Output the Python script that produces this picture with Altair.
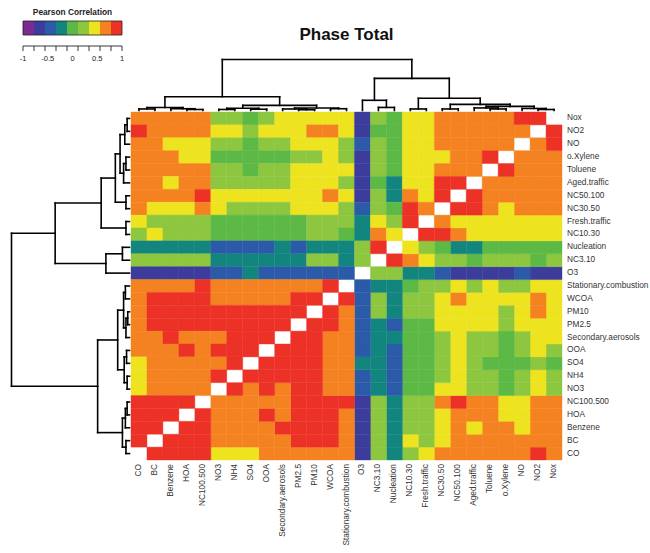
import altair as alt
import pandas as pd

# ---------------- data ----------------
# column order (left -> right); rows use the reversed order (top -> bottom)
variables = ["CO", "BC", "Benzene", "HOA", "NC100.500", "NO3", "NH4", "SO4", "OOA",
             "Secondary.aerosols", "PM2.5", "PM10", "WCOA", "Stationary.combustion",
             "O3", "NC3.10", "Nucleation", "NC10.30", "Fresh.traffic", "NC30.50",
             "NC50.100", "Aged.traffic", "Toluene", "o.Xylene", "NO", "NO2", "Nox"]
row_names = variables[::-1]

# Pearson r: upper-left triangle, row by row (top row first),
# columns from the left up to the white diagonal
tri_rows = [
    [0.67, 0.67, 0.67, 0.67, 0.67, 0.22, 0.22, 0.00, 0.22, 0.45, 0.45, 0.45, 0.45, 0.45, -0.67, 0.22, 0.00, 0.45, 0.45, 0.67, 0.67, 0.67, 0.67, 0.67, 0.89, 0.89],
    [0.89, 0.67, 0.67, 0.67, 0.67, 0.45, 0.45, 0.22, 0.45, 0.45, 0.45, 0.67, 0.67, 0.45, -0.67, 0.00, 0.00, 0.45, 0.45, 0.67, 0.67, 0.67, 0.67, 0.67, 0.67],
    [0.67, 0.67, 0.45, 0.45, 0.45, 0.22, 0.22, 0.00, 0.22, 0.22, 0.45, 0.45, 0.45, 0.22, -0.45, 0.22, 0.00, 0.45, 0.45, 0.67, 0.67, 0.67, 0.67, 0.67],
    [0.67, 0.67, 0.67, 0.45, 0.45, 0.00, 0.00, 0.00, 0.00, 0.00, 0.22, 0.22, 0.45, 0.22, -0.67, 0.22, 0.00, 0.45, 0.45, 0.45, 0.67, 0.67, 0.89],
    [0.67, 0.67, 0.67, 0.67, 0.67, 0.22, 0.22, 0.00, 0.22, 0.22, 0.45, 0.45, 0.45, 0.45, -0.67, 0.22, 0.00, 0.45, 0.45, 0.67, 0.67, 0.67],
    [0.67, 0.67, 0.45, 0.67, 0.67, 0.22, 0.22, 0.22, 0.22, 0.22, 0.45, 0.45, 0.45, 0.22, -0.67, 0.00, -0.22, 0.45, 0.45, 0.89, 0.89],
    [0.67, 0.67, 0.67, 0.67, 0.89, 0.45, 0.45, 0.45, 0.45, 0.45, 0.45, 0.45, 0.67, 0.45, -0.67, 0.22, -0.22, 0.67, 0.45, 0.89],
    [0.67, 0.45, 0.45, 0.45, 0.67, 0.45, 0.22, 0.22, 0.22, 0.22, 0.45, 0.45, 0.45, 0.22, -0.45, 0.22, 0.00, 0.89, 0.67],
    [0.45, 0.22, 0.22, 0.22, 0.22, 0.00, 0.00, 0.00, 0.00, 0.00, 0.00, 0.22, 0.22, 0.22, -0.22, 0.45, 0.22, 0.89],
    [0.22, 0.45, 0.22, 0.22, 0.22, 0.00, 0.00, 0.00, 0.00, 0.00, 0.00, 0.22, 0.22, 0.00, -0.22, 0.67, 0.45],
    [-0.22, -0.22, -0.22, -0.22, -0.22, -0.45, -0.45, -0.45, -0.45, -0.22, -0.45, -0.22, -0.22, -0.22, 0.22, 0.89],
    [0.22, 0.22, 0.22, 0.22, 0.22, -0.22, -0.22, -0.22, -0.22, -0.22, -0.22, 0.22, 0.22, -0.22, 0.22],
    [-0.67, -0.67, -0.67, -0.67, -0.67, -0.45, -0.45, -0.22, -0.45, -0.45, -0.45, -0.45, -0.45, -0.45],
    [0.67, 0.67, 0.67, 0.67, 0.89, 0.67, 0.67, 0.67, 0.67, 0.67, 0.67, 0.67, 0.89],
    [0.67, 0.89, 0.89, 0.89, 0.89, 0.67, 0.67, 0.67, 0.67, 0.67, 0.89, 0.89],
    [0.67, 0.89, 0.89, 0.89, 0.89, 0.89, 0.89, 0.89, 0.89, 0.89, 0.89],
    [0.67, 0.89, 0.89, 0.89, 0.89, 0.89, 0.89, 0.89, 0.89, 0.89],
    [0.67, 0.67, 0.89, 0.67, 0.67, 0.67, 0.89, 0.89, 0.89],
    [0.67, 0.67, 0.67, 0.89, 0.67, 0.89, 0.89, 0.89],
    [0.45, 0.67, 0.67, 0.67, 0.67, 0.67, 0.89],
    [0.45, 0.67, 0.67, 0.67, 0.67, 0.89],
    [0.45, 0.67, 0.67, 0.67, 0.67],
    [0.89, 0.89, 0.89, 0.89],
    [0.89, 0.89, 0.89],
    [0.89, 0.89],
    [0.89],
]

# hierarchical clustering (name, child a, child b, merge height relative to the root)
merges = [
    ("a1", "CO", "BC", 0.030),
    ("a2", "HOA", "NC100.500", 0.020),
    ("a3", "Benzene", "a2", 0.035),
    ("A1", "a1", "a3", 0.060),
    ("q1", "NO3", "NH4", 0.020),
    ("q2", "SO4", "OOA", 0.025),
    ("Q", "q1", "q2", 0.045),
    ("p1", "PM2.5", "PM10", 0.015),
    ("p2", "Secondary.aerosols", "p1", 0.030),
    ("p3", "WCOA", "Stationary.combustion", 0.035),
    ("P", "p2", "p3", 0.050),
    ("A2", "Q", "P", 0.100),
    ("A", "A1", "A2", 0.270),
    ("b1", "NC3.10", "Nucleation", 0.060),
    ("B1", "O3", "b1", 0.200),
    ("b2", "NC10.30", "Fresh.traffic", 0.030),
    ("b3", "NC30.50", "NC50.100", 0.030),
    ("b4", "Toluene", "o.Xylene", 0.030),
    ("b5", "Aged.traffic", "b4", 0.050),
    ("b6", "NO2", "Nox", 0.020),
    ("b7", "NO", "b6", 0.040),
    ("b8", "b5", "b7", 0.080),
    ("b9", "b3", "b8", 0.120),
    ("B2", "b2", "b9", 0.240),
    ("B", "B1", "B2", 0.630),
    ("root", "A", "B", 1.000),
]

legend_labels = ["-1", "-0.5", "0", "0.5", "1"]
legend_label_values = [-1, -0.5, 0, 0.5, 1]
thresholds = [-7 / 9, -5 / 9, -3 / 9, -1 / 9, 1 / 9, 3 / 9, 5 / 9, 7 / 9]
palette = ["#7b2a8f", "#3b3c9c", "#2b5aa8", "#13857f", "#5cb946",
           "#8dc63f", "#eee31f", "#f58220", "#ec3126"]

# ---------------- layout ----------------
W, H = 650, 553
N = len(variables)
HM_L, HM_R, HM_T, HM_B = 131, 562, 112, 460
ux = (HM_R - HM_L) / N
uy = (HM_B - HM_T) / N
x_scale = alt.Scale(domain=[-HM_L / ux, (W - HM_L) / ux], nice=False, zero=False)
y_scale = alt.Scale(domain=[-HM_T / uy, (H - HM_T) / uy], nice=False, zero=False, reverse=True)
TOP_PX, LEFT_PX, GAP = 51, 118, 1.5
LEG_L, LEG_R = 23, 122
lx = (LEG_R - LEG_L) / 2
leg_scale = alt.Scale(domain=[-1 - LEG_L / lx, -1 + (W - LEG_L) / lx], nice=False, zero=False)
color_scale = alt.Scale(type="threshold", domain=thresholds, range=palette)
FONT = "Liberation Sans"

# ---------------- tables ----------------
cells = []
for r, vals in enumerate(tri_rows):
    for c, v in enumerate(vals):
        cells.append({"r": r, "c": c, "v": v})
        cells.append({"r": N - 1 - c, "c": N - 1 - r, "v": v})
heat = pd.DataFrame(cells)
heat["r1"] = heat["r"] + 1
heat["c1"] = heat["c"] + 1

pos = {name: i for i, name in enumerate(variables)}
hgt = {name: 0.0 for name in variables}
segs = []
for name, a, b, h in merges:
    segs.append((pos[a], hgt[a], pos[a], h))
    segs.append((pos[b], hgt[b], pos[b], h))
    segs.append((pos[a], h, pos[b], h))
    pos[name] = (pos[a] + pos[b]) / 2
    hgt[name] = h
seg = pd.DataFrame(segs, columns=["p1", "h1", "p2", "h2"])
# top dendrogram (columns)
seg["tx1"] = seg["p1"] + 0.5
seg["tx2"] = seg["p2"] + 0.5
seg["ty1"] = -(GAP + seg["h1"] * TOP_PX) / uy
seg["ty2"] = -(GAP + seg["h2"] * TOP_PX) / uy
# left dendrogram (rows)
seg["ly1"] = (N - 1 - seg["p1"]) + 0.5
seg["ly2"] = (N - 1 - seg["p2"]) + 0.5
seg["lx1"] = -(GAP + seg["h1"] * LEFT_PX) / ux
seg["lx2"] = -(GAP + seg["h2"] * LEFT_PX) / ux

rows_df = pd.DataFrame({"name": row_names, "y": [i + 0.5 for i in range(N)]})
cols_df = pd.DataFrame({"name": variables, "x": [i + 0.5 for i in range(N)]})

edges = [-1] + thresholds + [1]
leg = pd.DataFrame({"lo": edges[:-1], "hi": edges[1:]})
leg["mid"] = (leg["lo"] + leg["hi"]) / 2
leg_edges = pd.DataFrame({"e": edges})
leg_lab = pd.DataFrame({"v": legend_label_values, "t": legend_labels})

# ---------------- layers ----------------
heat_layer = alt.Chart(heat).mark_rect(strokeWidth=0.4).encode(
    x=alt.X("c:Q", scale=x_scale, axis=None),
    x2="c1:Q",
    y=alt.Y("r:Q", scale=y_scale, axis=None),
    y2="r1:Q",
    color=alt.Color("v:Q", scale=color_scale, legend=None),
    stroke=alt.Stroke("v:Q", scale=color_scale, legend=None),
)

top_dendro = alt.Chart(seg).mark_rule(color="black", strokeWidth=1.6, strokeCap="square").encode(
    x=alt.X("tx1:Q", scale=x_scale, axis=None), x2="tx2:Q",
    y=alt.Y("ty1:Q", scale=y_scale, axis=None), y2="ty2:Q",
)
left_dendro = alt.Chart(seg).mark_rule(color="black", strokeWidth=1.6, strokeCap="square").encode(
    x=alt.X("lx1:Q", scale=x_scale, axis=None), x2="lx2:Q",
    y=alt.Y("ly1:Q", scale=y_scale, axis=None), y2="ly2:Q",
)

row_labels = alt.Chart(rows_df).mark_text(
    align="left", baseline="middle", font=FONT, fontSize=8.3, color="#333333"
).encode(
    x=alt.value(HM_R + 5),
    y=alt.Y("y:Q", scale=y_scale, axis=None),
    text="name:N",
)
col_labels = alt.Chart(cols_df).mark_text(
    align="right", baseline="middle", angle=270, font=FONT, fontSize=8.3, color="#333333"
).encode(
    x=alt.X("x:Q", scale=x_scale, axis=None),
    y=alt.value(HM_B + 4),
    text="name:N",
)

title = alt.Chart(pd.DataFrame({"t": ["Phase Total"]})).mark_text(
    align="center", baseline="middle", font=FONT, fontSize=17, fontWeight="bold", color="#111111"
).encode(x=alt.value((HM_L + HM_R) / 2), y=alt.value(35), text="t:N")

leg_title = alt.Chart(pd.DataFrame({"t": ["Pearson Correlation"]})).mark_text(
    align="center", baseline="middle", font=FONT, fontSize=8.3, fontWeight="bold", color="#222222"
).encode(x=alt.value((LEG_L + LEG_R) / 2), y=alt.value(13), text="t:N")

leg_bar = alt.Chart(leg).mark_rect().encode(
    x=alt.X("lo:Q", scale=leg_scale, axis=None), x2="hi:Q",
    y=alt.value(21), y2=alt.value(35),
    color=alt.Color("mid:Q", scale=color_scale, legend=None),
)
leg_box = alt.Chart(pd.DataFrame({"a": [-1], "b": [1]})).mark_rect(
    fill=None, stroke="#222222", strokeWidth=0.8
).encode(
    x=alt.X("a:Q", scale=leg_scale, axis=None), x2="b:Q",
    y=alt.value(21), y2=alt.value(35),
)
leg_base = alt.Chart(pd.DataFrame({"a": [-1], "b": [1]})).mark_rule(color="#222222", strokeWidth=0.9).encode(
    x=alt.X("a:Q", scale=leg_scale, axis=None), x2="b:Q", y=alt.value(46),
)
leg_ticks = alt.Chart(leg_edges).mark_rule(color="#222222", strokeWidth=0.9).encode(
    x=alt.X("e:Q", scale=leg_scale, axis=None), y=alt.value(46), y2=alt.value(51),
)
leg_text = alt.Chart(leg_lab).mark_text(
    align="center", baseline="middle", font=FONT, fontSize=7.5, color="#222222"
).encode(
    x=alt.X("v:Q", scale=leg_scale, axis=None), y=alt.value(59), text="t:N",
)

chart = alt.layer(
    heat_layer, top_dendro, left_dendro, row_labels, col_labels, title,
    leg_title, leg_bar, leg_box, leg_base, leg_ticks, leg_text,
).resolve_scale(x="independent").properties(
    width=W, height=H, padding=0, autosize=alt.AutoSizeParams(type="none"),
    background="white",
).configure_view(strokeWidth=0)

chart.save("out.html", embed_options={"renderer": "svg", "actions": False})
